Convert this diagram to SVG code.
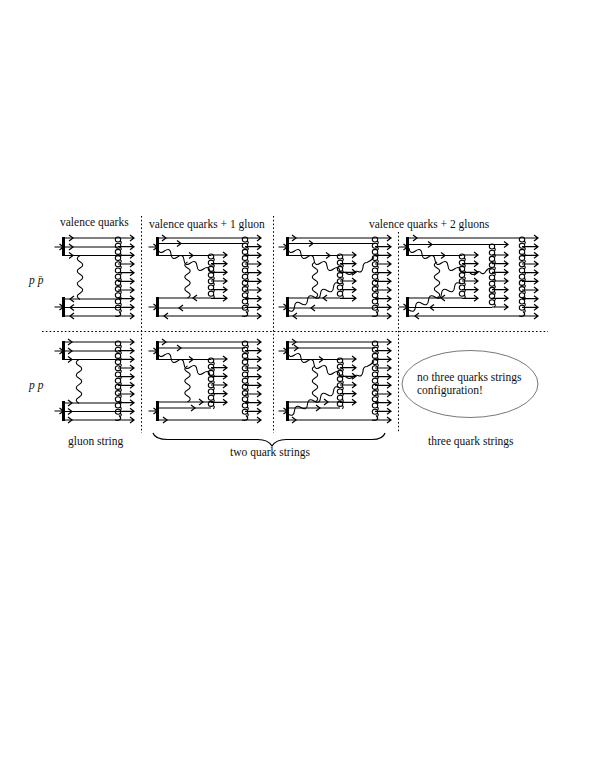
<svg xmlns="http://www.w3.org/2000/svg" xmlns:xlink="http://www.w3.org/1999/xlink" width="595" height="770" viewBox="0 0 595 770">
<style>
text{font-family:"Liberation Serif","Times New Roman",serif;font-size:11.5px;fill:#111}
.i{font-style:italic}
path,use{fill:none;stroke:#000;stroke-width:1.2}
.w{stroke-width:1.1}
.bar{stroke-width:3}
.dot{stroke-width:1;stroke-dasharray:1.6 2.2}
.coil{stroke-width:1.1}
</style>
<defs>
<path id="r" d="M-3,-3L1,0L-3,3"/>
<path id="l" d="M3,-3L-1,0L3,3"/>
<path id="o" d="M0,0H15M12,-3L16,0L12,3"/>
<path id="in" d="M-9,0H-1M-4,-3L0,0L-4,3"/>
<path id="u" class="coil" d="M0,0C-3.6,0 -3.6,5 0,5C3.6,5 3.6,0 0,0M2.300,4C3.600,5 3.600,6 2.300,7.400"/>
<g id="c7"><use href="#u"/><use href="#u" y="6.2"/><use href="#u" y="12.4"/><use href="#u" y="18.6"/><use href="#u" y="24.8"/><use href="#u" y="31"/><use href="#u" y="37.2"/></g>
<g id="c8"><use href="#c7"/><use href="#u" y="43.4"/></g>
<g id="c10"><use href="#c8"/><use href="#u" y="49.6"/><use href="#u" y="55.8"/></g>
<g id="c12"><use href="#c10"/><use href="#u" y="62"/><use href="#u" y="68.2"/><path d="M1,74.4C4.500,78 2,80 -3,79"/></g>
<g id="o6"><use href="#o"/><use href="#o" y="8.7"/><use href="#o" y="17.3"/><use href="#o" y="26"/><use href="#o" y="34.7"/><use href="#o" y="43.3"/></g>
<g id="o10"><use href="#o6"/><use href="#o" y="52"/><use href="#o" y="60.7"/><use href="#o" y="69.3"/><use href="#o" y="78"/></g>
<path id="gv44" class="w" d="M0,0q-5.500,3.140 0,6.280t0,6.280t0,6.280t0,6.280t0,6.280t0,6.280t0,6.280"/>
<path id="gv36" class="w" d="M0,0q-5.500,3 0,6t0,6t0,6t0,6t0,6t0,6"/>
<path id="ga" class="w" d="M0,0q.75,7 6.500,3t6.500,3t6.500,3t6.500,3t6.500,3t6.500,3t6.500,3t6.500,3"/>
<path id="gb" class="w" d="M0,0q5.950,3.700 6.500,-3.250t6.500,-3.250t6.500,-3.250t6.500,-3.250t6.500,-3.250t6.500,-3.250t6.500,-3.250t6.500,-3.250"/>
<g id="beam"><path class="bar" d="M0,-1V18"/><use href="#in" y="9"/></g>
<g id="beam2"><path class="bar" d="M0,-1V19"/><use href="#in" y="9"/></g>
</defs>

<g id="connectors">
<path class="dot" d="M141.500,216V433M273.500,216V433M398.500,232V433M42,331.500H548"/>
<path d="M153,433Q155,439.500 168,439.500H258Q268,439.500 272,446Q276,439.500 286,439.500H372Q383,439.500 385,433" stroke-width=".8"/>
</g>

<g id="panel-valence-ppbar">
<use href="#beam" x="63.500" y="238"/><use href="#beam2" x="63.500" y="298"/>
<path d="M63,238H118M63,247H118M63,255.500H118M63,299H118M63,307.500H118M63,316H118"/>
<use href="#r" x="72" y="238"/><use href="#r" x="72" y="247"/><use href="#r" x="72" y="255.500"/>
<use href="#l" x="71" y="299"/><use href="#l" x="71" y="307.500"/><use href="#l" x="71" y="316"/>
<use href="#c12" x="118" y="237"/><use href="#o10" x="118" y="238"/>
<use href="#gv44" x="80" y="255.500"/>
</g>

<g id="panel-valence-pp">
<use href="#beam" x="63.500" y="342"/><use href="#beam2" x="63.500" y="402"/>
<path d="M63,342H118M63,351H118M63,359.500H118M63,403H118M63,411.500H118M63,420H118"/>
<use href="#r" x="71" y="342"/><use href="#r" x="71" y="351"/><use href="#r" x="71" y="359.500"/>
<use href="#r" x="71" y="403"/><use href="#r" x="71" y="411.500"/><use href="#r" x="71" y="420"/>
<use href="#c12" x="118" y="341"/><use href="#o10" x="118" y="342"/>
<use href="#gv44" x="79" y="359.500"/>
</g>

<g id="panel-1g-ppbar">
<use href="#beam" x="157.500" y="238"/><use href="#beam2" x="157.500" y="298"/>
<path d="M157,238H245M157,243.500H245M157,255.500H211M157,298H211M157,308H245M157,316H245"/>
<use href="#r" x="165" y="238"/><use href="#r" x="180" y="243.500"/><use href="#r" x="192" y="255.500"/>
<use href="#l" x="194" y="298"/><use href="#l" x="180" y="308"/><use href="#l" x="165" y="316"/>
<use href="#c7" x="211" y="254"/><use href="#o6" x="211" y="255"/>
<use href="#c12" x="245" y="237"/><use href="#o10" x="245" y="238"/>
<use href="#ga" x="158" y="248"/><use href="#gv36" x="187.500" y="262"/>
</g>

<g id="panel-1g-pp">
<use href="#beam" x="157.500" y="342"/><use href="#beam2" x="157.500" y="402"/>
<path d="M157,342H245M157,348H245M157,359.500H211M157,402H211M157,408H211M157,420H245"/>
<use href="#r" x="165" y="342"/><use href="#r" x="180" y="348"/><use href="#r" x="192" y="359.500"/>
<use href="#r" x="202" y="402"/><use href="#r" x="194" y="408"/><use href="#r" x="166" y="420"/>
<use href="#c8" x="211" y="358"/><use href="#o6" x="211" y="359"/>
<use href="#c12" x="245" y="341"/><use href="#o10" x="245" y="342"/>
<use href="#ga" x="158" y="352"/><use href="#gv36" x="187.500" y="366"/>
</g>

<g id="panel-2g-ppbar">
<use href="#beam" x="287.500" y="238"/><use href="#beam2" x="287.500" y="298"/>
<path d="M287,238H375M287,243.500H375M287,255.500H340M287,298H340M287,308H375M287,316H375"/>
<use href="#r" x="295" y="238"/><use href="#r" x="312" y="243.500"/><use href="#r" x="329" y="255.500"/>
<use href="#l" x="324" y="298"/><use href="#l" x="312" y="308"/><use href="#l" x="294" y="316"/>
<use href="#c7" x="340" y="254"/><use href="#o6" x="340" y="255"/>
<use href="#c12" x="375" y="237"/><use href="#o10" x="375" y="238"/>
<use href="#ga" x="288" y="248"/><use href="#gv36" x="315" y="262"/><use href="#gb" x="288" y="310"/>
<path class="w" d="M345,272q4,4 7,1.500q3,-3 6,-2q4,2 5,-4q0,-5 4,-5q3,-1 7,-5"/>
</g>

<g id="panel-2g-pp">
<use href="#beam" x="287.500" y="342"/><use href="#beam2" x="287.500" y="402"/>
<path d="M287,342H375M287,348H375M287,359.500H340M287,402H340M287,408H340M287,420H375"/>
<use href="#r" x="295" y="342"/><use href="#r" x="297" y="348"/><use href="#r" x="322" y="359.500"/>
<use href="#r" x="327" y="402"/><use href="#r" x="319" y="408"/><use href="#r" x="295" y="420"/>
<use href="#c8" x="340" y="358"/><use href="#o6" x="340" y="359"/>
<use href="#c12" x="375" y="341"/><use href="#o10" x="375" y="342"/>
<use href="#ga" x="288" y="352"/><use href="#gv36" x="315" y="366"/><use href="#gb" x="288" y="414"/>
<path class="w" d="M345,376q4,4 7,1.500q3,-3 6,-2q4,2 5,-4q0,-5 4,-5q3,-1 7,-5"/>
</g>

<g id="panel-3q-ppbar">
<use href="#beam" x="407.500" y="238"/><use href="#beam2" x="407.500" y="298"/>
<path d="M407,238H522M407,244.500H492M407,255.500H462M407,298H462M407,307.500H492M407,316H522"/>
<use href="#r" x="416" y="238"/><use href="#r" x="431" y="244.500"/><use href="#r" x="444" y="255.500"/>
<use href="#l" x="442" y="298"/><use href="#l" x="431" y="307.500"/><use href="#l" x="416" y="316"/>
<use href="#c7" x="462" y="254"/><use href="#o6" x="462" y="255"/>
<use href="#c10" x="492" y="244"/><use href="#o" x="492" y="244.500"/><use href="#o6" x="492" y="255"/><use href="#o" x="492" y="307"/>
<use href="#c12" x="522" y="237"/><use href="#o10" x="522" y="238"/>
<use href="#ga" x="409" y="248"/><use href="#gv36" x="437" y="262"/><use href="#gb" x="409" y="310"/>
<path class="w" d="M470,273q3,3 6,0q3,-3 5,0q3,2 5,-2q2,-3 6,-3"/>
</g>

<g id="labels">
<text x="60" y="226">valence quarks</text>
<text x="149" y="228">valence quarks + 1 gluon</text>
<text x="369" y="228">valence quarks + 2 gluons</text>
<text class="i" x="29" y="284">p p̄</text>
<text class="i" x="29" y="389">p p</text>
<text x="68" y="445">gluon string</text>
<text x="230" y="456">two quark strings</text>
<text x="428" y="445">three quark strings</text>
</g>

<g id="note">
<ellipse cx="470" cy="384" rx="68" ry="33.500" fill="none" stroke="#555" stroke-width=".8"/>
<text x="417" y="381">no three quarks strings</text>
<text x="417" y="394">configuration!</text>
</g>
</svg>
